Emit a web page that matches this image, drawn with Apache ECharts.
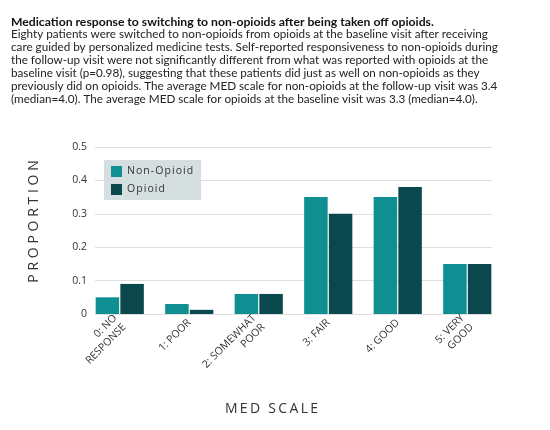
<!DOCTYPE html>
<html>
<head>
<meta charset="utf-8">
<script src="https://cdn.jsdelivr.net/npm/echarts@6/dist/echarts.min.js"></script>
<style>html,body{margin:0;padding:0;background:#fff;}#c{width:550px;height:430px;}</style>
</head>
<body>
<div id="c"></div>
<script>
var categories = ['0: NO\nRESPONSE', '1: POOR', '2: SOMEWHAT\nPOOR', '3: FAIR', '4: GOOD', '5: VERY\nGOOD'];
var nonOpioid = [0.05, 0.03, 0.06, 0.35, 0.35, 0.15];
var opioid = [0.09, 0.0125, 0.06, 0.30, 0.38, 0.15];
var yTicks = [0, 0.1, 0.2, 0.3, 0.4, 0.5];
var titleText = 'Medication response to switching to non-opioids after being taken off opioids.';
var bodyLines = [
  'Eighty patients were switched to non-opioids from opioids at the baseline visit after receiving',
  'care guided by personalized medicine tests. Self-reported responsiveness to non-opioids during',
  'the follow-up visit were not significantly different from what was reported with opioids at the',
  'baseline visit (p=0.98), suggesting that these patients did just as well on non-opioids as they',
  'previously did on opioids. The average MED scale for non-opioids at the follow-up visit was 3.4',
  '(median=4.0). The average MED scale for opioids at the baseline visit was 3.3 (median=4.0).'
];
function spaced(s, sep) { return s.split('').join(sep); }
var FONT = 'Open Sans';
var TFONT = 'Lato';
var chart = echarts.init(document.getElementById('c'));
chart.setOption({
  animation: false,
  textStyle: { fontFamily: FONT },
  title: {
    left: 6, top: 11,
    text: titleText,
    subtext: bodyLines.join('\n'),
    itemGap: 0,
    textStyle: { fontFamily: TFONT, fontSize: 12.2, fontWeight: 'bold', color: '#111' },
    subtextStyle: { fontFamily: TFONT, fontSize: 11.7, lineHeight: 13, color: '#222' }
  },
  legend: {
    orient: 'vertical', left: 104, top: 160,
    backgroundColor: '#d6dfdf', padding: [6, 8, 5, 7],
    itemWidth: 11, itemHeight: 11, itemGap: 7,
    icon: 'rect',
    formatter: function (n) { return spaced(n, '\u200a'); },
    textStyle: { fontFamily: FONT, fontSize: 10.5, color: '#333' },
    data: ['Non-Opioid', 'Opioid']
  },
  grid: [
    { left: 85, right: 48, top: 147, bottom: 116 },
    { left: 95, right: 58, top: 147, bottom: 116 }
  ],
  xAxis: [
    {
      type: 'category', gridIndex: 0, data: categories,
      axisLine: { show: false }, axisTick: { show: false },
      axisLabel: { rotate: 45, interval: 0, fontSize: 10.5, color: '#333', margin: 7, lineHeight: 13, fontFamily: FONT },
      name: spaced('MED SCALE', '\u2009'), nameLocation: 'middle', nameGap: 88,
      nameTextStyle: { fontSize: 14, color: '#333', padding: [0, 44, 0, 0], fontFamily: FONT }
    },
    { type: 'value', gridIndex: 1, min: 0, max: 1, show: false }
  ],
  yAxis: [
    { type: 'value', gridIndex: 0, min: 0, max: 0.5, interval: 0.1, show: false, splitLine: { show: false } },
    {
      type: 'value', gridIndex: 1, min: 0, max: 0.5, interval: 0.1,
      axisLine: { show: false }, axisTick: { show: false },
      axisLabel: { fontSize: 10.5, color: '#333', margin: 8, fontFamily: FONT,
        formatter: function (v) { var i = yTicks.indexOf(Math.round(v * 10) / 10); return i >= 0 ? String(yTicks[i]) : ''; } },
      splitLine: { lineStyle: { color: '#dedede', width: 1 } },
      name: spaced('PROPORTION', '\u2009\u200a'), nameLocation: 'middle', nameGap: 54,
      nameTextStyle: { fontSize: 14, color: '#333', padding: [0, 0, 0, 18], fontFamily: FONT }
    }
  ],
  series: [
    { name: 'Non-Opioid', type: 'bar', xAxisIndex: 0, yAxisIndex: 0, data: nonOpioid,
      barWidth: 23.5, barGap: '5%', itemStyle: { color: '#0f8f92' } },
    { name: 'Opioid', type: 'bar', xAxisIndex: 0, yAxisIndex: 0, data: opioid,
      barWidth: 23.5, barGap: '5%', itemStyle: { color: '#0a484d' } }
  ]
});
</script>
</body>
</html>
